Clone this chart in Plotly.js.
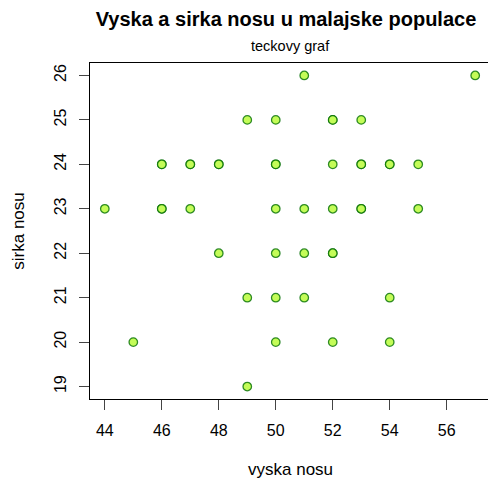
<!DOCTYPE html>
<html>
<head>
<meta charset="utf-8">
<script src="https://cdn.plot.ly/plotly-3.0.1.min.js"></script>
<style>
html, body { margin: 0; padding: 0; overflow: hidden; background: #fff; }
#chart { width: 500px; height: 481px; }
</style>
</head>
<body>
<div id="chart"></div>
<script>
// vyska nosu (x) and sirka nosu (y); repeated pairs are overplotted points
const vyska = [51, 57,
  49, 50, 52, 52, 53,
  46, 46, 47, 47, 48, 48, 50, 50, 52, 53, 53, 54, 54, 55,
  44, 46, 46, 47, 50, 51, 52, 53, 53, 55,
  48, 50, 51, 52, 52,
  49, 50, 51, 54,
  45, 50, 52, 54,
  49];
const sirka = [26, 26,
  25, 25, 25, 25, 25,
  24, 24, 24, 24, 24, 24, 24, 24, 24, 24, 24, 24, 24, 24,
  23, 23, 23, 23, 23, 23, 23, 23, 23, 23,
  22, 22, 22, 22, 22,
  21, 21, 21, 21,
  20, 20, 20, 20,
  19];
const xTicks = [44, 46, 48, 50, 52, 54, 56];
const yTicks = [19, 20, 21, 22, 23, 24, 25, 26];
const mainTitle = "Vyska a sirka nosu u malajske populace";
const subTitle = "teckovy graf";
const xTitle = "vyska nosu";
const yTitle = "sirka nosu";

const FONT = "Liberation Sans, Arial, Helvetica, sans-serif";

function padRange(v) {
  const mn = Math.min(...v), mx = Math.max(...v);
  const d = (mx - mn) * 0.04;
  return [mn - d, mx + d];
}

const trace = {
  x: vyska, y: sirka, type: 'scatter', mode: 'markers',
  marker: { size: 8.5, color: '#c4fc58', line: { color: 'rgba(0,110,0,0.8)', width: 1.3 } },
  hoverinfo: 'x+y'
};

const axisCommon = {
  showline: true, mirror: true, linecolor: '#000', linewidth: 1,
  ticks: 'outside', ticklen: 10, tickwidth: 1, tickcolor: '#444',
  showgrid: false, zeroline: false, automargin: false,
  tickfont: { family: FONT, size: 16, color: '#000' },
  tickmode: 'array'
};

const plotH = 481 - 63 - 82;

const layout = {
  width: 500, height: 481,
  margin: { l: 90, r: 10, t: 63, b: 82 },
  paper_bgcolor: '#fff', plot_bgcolor: '#fff',
  showlegend: false,
  font: { family: FONT, color: '#000' },
  title: {
    text: '<b>' + mainTitle + '</b>',
    font: { family: FONT, size: 20, color: '#000' },
    x: 0.49, xref: 'paper', xanchor: 'center',
    y: 1 - 19 / 481, yref: 'container', yanchor: 'middle'
  },
  xaxis: Object.assign({}, axisCommon, {
    range: padRange(vyska), tickvals: xTicks, ticktext: xTicks.map(String),
    ticklabelstandoff: 7
  }),
  yaxis: Object.assign({}, axisCommon, {
    range: padRange(sirka), tickvals: yTicks, ticktext: yTicks.map(String),
    tickangle: -90, ticklabelstandoff: 7,
    title: { text: yTitle, font: { family: FONT, size: 17, color: '#000' }, standoff: 22 }
  }),
  annotations: [{
    text: subTitle, showarrow: false,
    xref: 'paper', x: 0.5, xanchor: 'center',
    yref: 'paper', y: 1 + 17 / plotH, yanchor: 'middle',
    font: { family: FONT, size: 14.5, color: '#000' }
  }, {
    text: xTitle, showarrow: false,
    xref: 'paper', x: 0.5, xanchor: 'center',
    yref: 'paper', y: -70 / plotH, yanchor: 'middle',
    font: { family: FONT, size: 17, color: '#000' }
  }]
};

Plotly.newPlot('chart', [trace], layout, { displayModeBar: false });
</script>
</body>
</html>
